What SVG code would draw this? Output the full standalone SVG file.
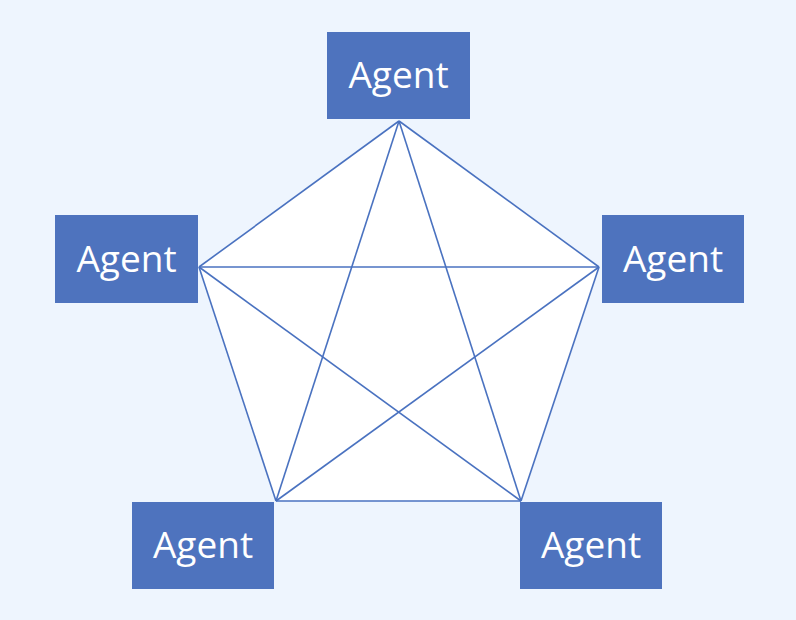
<svg xmlns="http://www.w3.org/2000/svg" width="796" height="620" viewBox="0 0 796 620">
<style>
.box{fill:#4E73BE;}
.lbl{fill:#ffffff;font-family:"Open Sans","Noto Sans",sans-serif;font-size:37px;text-anchor:middle;}
.edge{stroke:#4A72C0;stroke-width:1.6;fill:none;}
</style>
<rect width="796" height="620" fill="#EEF5FE"/>
<polygon points="399,121 599,267 521,501 276,501 199,267" fill="#ffffff"/>
<g id="connectors">
<line class="edge" x1="399" y1="121" x2="599" y2="267"/>
<line class="edge" x1="599" y1="267" x2="521" y2="501"/>
<line class="edge" x1="521" y1="501" x2="276" y2="501"/>
<line class="edge" x1="276" y1="501" x2="199" y2="267"/>
<line class="edge" x1="199" y1="267" x2="399" y2="121"/>
<line class="edge" x1="399" y1="121" x2="521" y2="501"/>
<line class="edge" x1="399" y1="121" x2="276" y2="501"/>
<line class="edge" x1="199" y1="267" x2="599" y2="267"/>
<line class="edge" x1="199" y1="267" x2="521" y2="501"/>
<line class="edge" x1="599" y1="267" x2="276" y2="501"/>
</g>
<g id="agent-top">
<rect class="box" x="327" y="32" width="143" height="87"/>
<text class="lbl" x="398.5" y="88">Agent</text>
</g>
<g id="agent-left">
<rect class="box" x="55" y="215" width="143" height="88"/>
<text class="lbl" x="126.5" y="272">Agent</text>
</g>
<g id="agent-right">
<rect class="box" x="602" y="215" width="142" height="88"/>
<text class="lbl" x="673" y="272">Agent</text>
</g>
<g id="agent-bottom-left">
<rect class="box" x="132" y="502" width="142" height="87"/>
<text class="lbl" x="203" y="558">Agent</text>
</g>
<g id="agent-bottom-right">
<rect class="box" x="520" y="502" width="142" height="87"/>
<text class="lbl" x="591" y="558">Agent</text>
</g>
</svg>
